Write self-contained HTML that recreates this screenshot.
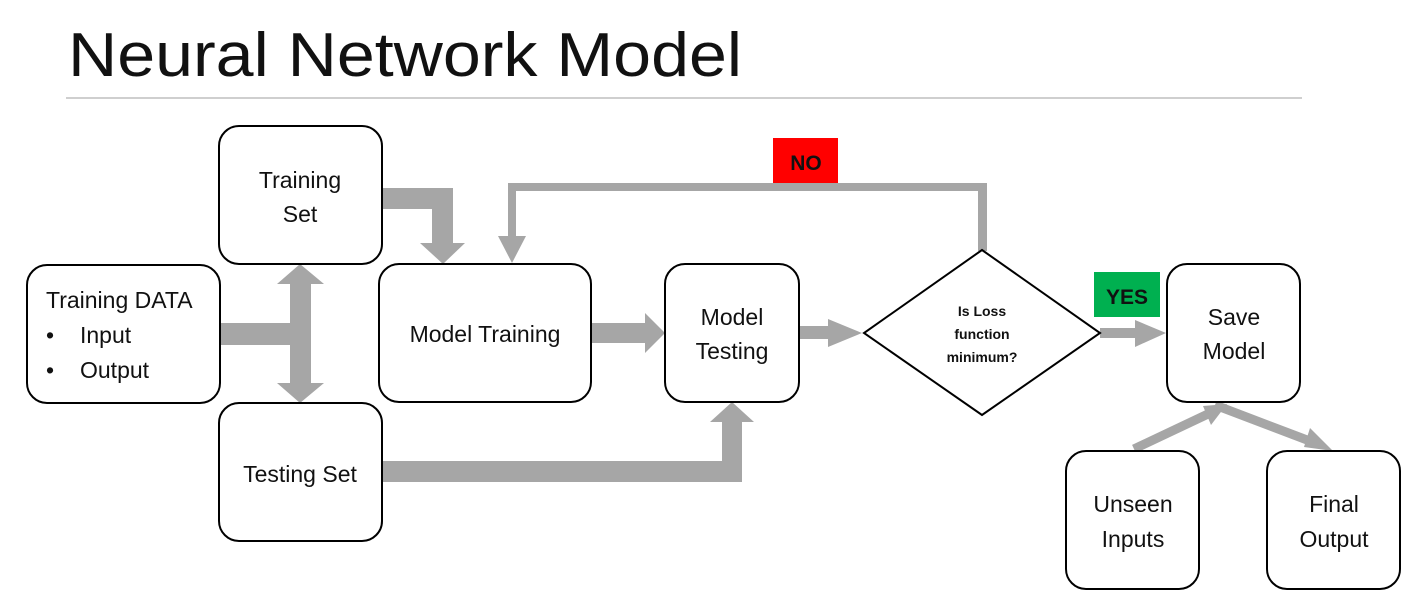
<!DOCTYPE html>
<html><head><style>
body{margin:0;background:#fff;width:1422px;height:611px;overflow:hidden;font-family:"Liberation Sans",sans-serif;}
</style></head><body>
<svg width="1422" height="611" xmlns="http://www.w3.org/2000/svg" font-family="Liberation Sans, sans-serif">
<text x="68" y="76" font-size="62" fill="#111" textLength="674" lengthAdjust="spacingAndGlyphs">Neural Network Model</text>
<line x1="66" y1="98" x2="1302" y2="98" stroke="#bfbfbf" stroke-width="1.5"/>
<g fill="#a6a6a6">
<rect x="220" y="323" width="85" height="22"/>
<rect x="290" y="282" width="21" height="104"/>
<polygon points="277,284 300,264 324,284"/>
<polygon points="277,383 300,403 324,383"/>
<rect x="382" y="188" width="71" height="21"/>
<rect x="432" y="188" width="21" height="58"/>
<polygon points="420,243 465,243 443,264"/>
<rect x="978" y="183" width="9" height="68"/>
<rect x="508" y="183" width="479" height="8"/>
<rect x="508" y="183" width="8" height="55"/>
<polygon points="498,236 526,236 512,263"/>
<rect x="591" y="323" width="56" height="20"/>
<polygon points="645,313 665,333 645,353"/>
<rect x="799" y="326" width="31" height="13"/>
<polygon points="828,319 862,333 828,347"/>
<rect x="1100" y="328" width="37" height="10"/>
<polygon points="1135,320 1166,333 1135,347"/>
<rect x="382" y="461" width="360" height="21"/>
<rect x="722" y="420" width="20" height="62"/>
<polygon points="710,422 732,402 754,422"/>
</g>
<g stroke="#a6a6a6" stroke-width="9" fill="none">
<line x1="1134" y1="449" x2="1208" y2="414"/>
<line x1="1215" y1="405" x2="1315" y2="443"/>
</g>
<g fill="#a6a6a6">
<polygon points="1227,404 1203,406 1211,425"/>
<polygon points="1333,451 1310,428 1304,447"/>
</g>
<g fill="#fff" stroke="#000" stroke-width="2">
<rect x="27" y="265" width="193" height="138" rx="20"/>
<rect x="219" y="126" width="163" height="138" rx="20"/>
<rect x="219" y="403" width="163" height="138" rx="20"/>
<rect x="379" y="264" width="212" height="138" rx="20"/>
<rect x="665" y="264" width="134" height="138" rx="20"/>
<polygon points="982,250 1100,333 982,415 864,333"/>
<rect x="1167" y="264" width="133" height="138" rx="20"/>
<rect x="1066" y="451" width="133" height="138" rx="20"/>
<rect x="1267" y="451" width="133" height="138" rx="20"/>
</g>
<rect x="773" y="138" width="65" height="45" fill="#ff0000"/>
<rect x="1094" y="272" width="66" height="45" fill="#00b050"/>
<g font-size="23" fill="#111" text-anchor="middle">
<text x="300" y="188">Training</text>
<text x="300" y="222">Set</text>
<text x="300" y="482">Testing Set</text>
<text x="485" y="342">Model Training</text>
<text x="732" y="325">Model</text>
<text x="732" y="359">Testing</text>
<text x="1234" y="325">Save</text>
<text x="1234" y="359">Model</text>
<text x="1133" y="512">Unseen</text>
<text x="1133" y="547">Inputs</text>
<text x="1334" y="512">Final</text>
<text x="1334" y="547">Output</text>
</g>
<g font-size="23" fill="#111">
<text x="46" y="308">Training DATA</text>
<text x="46" y="343">•</text><text x="80" y="343">Input</text>
<text x="46" y="378">•</text><text x="80" y="378">Output</text>
</g>
<g font-size="14" font-weight="bold" fill="#111" text-anchor="middle">
<text x="982" y="316">Is Loss</text>
<text x="982" y="339">function</text>
<text x="982" y="362">minimum?</text>
</g>
<text x="806" y="170" font-size="21" font-weight="bold" text-anchor="middle" fill="#111">NO</text>
<text x="1127" y="304" font-size="21" font-weight="bold" text-anchor="middle" fill="#111">YES</text>
</svg>
</body></html>
